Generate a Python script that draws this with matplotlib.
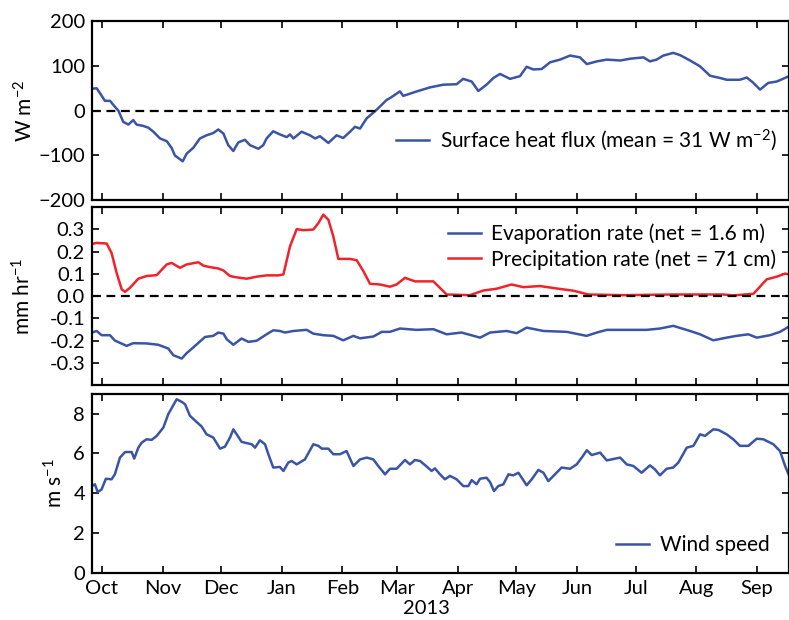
import datetime as dt
import numpy as np
import matplotlib
matplotlib.use("Agg")
import matplotlib.pyplot as plt
import matplotlib.dates as mdates
import matplotlib.transforms as mtransforms

# days since 1 Oct 2012
flux_days = [-5.1, -2.7, -1.0, 1.5, 4.1, 5.8, 8.4, 10.9, 13.5, 16.0, 17.7, 21.1, 23.7, 26.3,
             29.7, 33.1, 35.6, 37.3, 41.3, 43.3, 46.7, 50.1, 53.5, 56.9, 59.5, 62.1, 64.6,
             67.2, 69.7, 73.1, 75.7, 80.0, 82.5, 84.2, 87.6, 91.0, 94.5, 96.2, 97.9, 102.1,
             106.4, 109.0, 111.5, 115.8, 120.0, 123.4, 126.9, 129.4, 132.0, 135.4, 140.5,
             145.6, 147.3, 152.4, 154.1, 161.0, 167.8, 174.6, 181.4, 184.7, 189.1, 192.5,
             196.7, 200.2, 203.6, 208.7, 213.8, 217.2, 220.6, 224.9, 229.2, 234.3, 239.4,
             244.5, 248.0, 253.1, 258.2, 265.1, 270.2, 277.0, 280.3, 283.7, 287.1, 292.2,
             295.7, 300.8, 305.9, 311.0, 316.1, 319.5, 326.3, 329.8, 333.2, 336.6, 340.8,
             345.1, 351.4]
flux_vals = [49, 50, 39, 22, 22, 13, 0, -25, -31, -21, -31, -34, -38, -47,
             -62, -68, -83, -100, -113, -96, -83, -62, -55, -50, -42, -51, -77,
             -90, -71, -65, -77, -85, -77, -62, -46, -53, -59, -53, -62, -47,
             -55, -62, -57, -72, -55, -61, -47, -36, -40, -17, 2,
             24, 28, 43, 33, 43, 52, 58, 59, 71, 65, 44,
             58, 73, 82, 71, 77, 98, 92, 93, 108, 114, 123,
             119, 104, 110, 114, 112, 116, 119, 110, 114, 123, 129,
             124, 112, 99, 78, 73, 69, 69, 74, 62, 47, 62,
             65, 77]

precip_days = [-5.1, -2.7, 2.4, 4.9, 7.5, 10.1, 11.8, 14.3, 18.6, 22.8, 28.0, 33.1, 35.6,
               39.9, 43.3, 49.3, 51.8, 55.2, 59.5, 62.1, 65.5, 68.9, 74.0, 79.1, 84.2,
               90.2, 92.8, 96.2, 99.6, 103.0, 108.1, 110.7, 113.2, 115.8, 118.3, 120.9,
               126.9, 130.3, 133.7, 137.1, 142.2, 147.3, 150.7, 155.0, 160.1, 169.5,
               176.3, 188.2, 195.1, 201.9, 209.5, 215.5, 224.0, 232.6, 241.1, 248.8,
               266.7, 292.2, 317.8, 322.9, 333.2, 340.0, 345.1, 349.4, 351.4]
precip_vals = [0.234, 0.239, 0.236, 0.194, 0.104, 0.030, 0.019, 0.037, 0.078, 0.090, 0.094,
               0.142, 0.149, 0.127, 0.142, 0.152, 0.137, 0.130, 0.124, 0.115, 0.090, 0.084,
               0.078, 0.087, 0.093, 0.093, 0.097, 0.224, 0.301, 0.296, 0.299, 0.328, 0.366,
               0.343, 0.269, 0.167, 0.167, 0.161, 0.112, 0.055, 0.052, 0.042, 0.052, 0.082,
               0.066, 0.066, 0.007, 0.004, 0.025, 0.033, 0.052, 0.040, 0.045, 0.034, 0.024,
               0.007, 0.004, 0.007, 0.007, 0.003, 0.010, 0.075, 0.087, 0.101, 0.097]

evap_days = [-5.1, -2.7, -0.2, 4.1, 6.6, 12.6, 16.0, 22.8, 28.8, 33.9, 36.5, 40.8, 43.3,
             47.6, 52.7, 56.9, 59.5, 62.1, 63.8, 67.2, 71.4, 74.9, 79.1, 84.2, 87.6, 91.0,
             93.6, 97.9, 104.7, 108.1, 113.2, 118.3, 123.4, 128.6, 132.0, 138.8, 143.1,
             147.3, 152.4, 160.9, 169.5, 176.3, 183.9, 193.4, 198.5, 207.0, 212.1, 217.2,
             225.8, 237.7, 247.9, 253.1, 258.2, 266.7, 278.7, 285.4, 292.2, 300.8, 305.9,
             312.7, 319.5, 324.6, 330.6, 334.9, 341.7, 346.8, 351.4]
evap_vals = [-0.164, -0.157, -0.176, -0.176, -0.200, -0.224, -0.212, -0.213, -0.219, -0.236,
             -0.266, -0.281, -0.257, -0.224, -0.184, -0.179, -0.164, -0.169, -0.194, -0.219,
             -0.191, -0.206, -0.201, -0.172, -0.154, -0.157, -0.164, -0.157, -0.152, -0.169,
             -0.176, -0.179, -0.199, -0.179, -0.190, -0.182, -0.161, -0.161, -0.146, -0.152,
             -0.149, -0.172, -0.164, -0.187, -0.164, -0.157, -0.167, -0.142, -0.157, -0.161,
             -0.179, -0.164, -0.152, -0.152, -0.152, -0.146, -0.134, -0.157, -0.172, -0.199,
             -0.187, -0.179, -0.172, -0.187, -0.176, -0.161, -0.137]

wind_days = [-5.1, -3.6, -2.2, -0.2, 2.0, 4.9, 6.6, 9.2, 11.8, 15.2, 16.5, 18.6, 20.3, 22.8,
             25.4, 28.0, 31.4, 33.9, 38.2, 40.8, 42.5, 45.0, 48.4, 51.0, 53.5, 56.9, 60.4,
             62.9, 65.5, 67.2, 68.9, 71.4, 76.6, 78.3, 80.8, 83.4, 85.1, 87.6, 91.0, 92.8,
             95.3, 97.0, 99.6, 103.8, 108.1, 110.7, 112.4, 115.8, 118.3, 121.7, 125.1,
             128.6, 132.0, 135.4, 138.8, 141.3, 144.8, 147.3, 150.7, 155.0, 157.5, 160.1,
             162.7, 166.1, 168.6, 170.3, 172.9, 175.4, 178.0, 181.4, 184.8, 187.4, 189.1,
             191.6, 193.4, 196.7, 198.5, 200.5, 202.7, 205.3, 207.9, 210.4, 213.0, 214.7,
             217.2, 219.8, 223.2, 225.8, 228.3, 231.7, 235.1, 239.4, 242.8, 245.4, 248.0,
             250.5, 254.8, 258.2, 265.0, 268.4, 271.8, 276.0, 280.3, 282.8, 285.4, 288.8,
             292.2, 294.8, 299.1, 302.5, 305.9, 308.4, 312.7, 315.3, 319.5, 322.9, 326.3,
             330.6, 334.9, 338.3, 343.4, 346.8, 349.4, 351.4]
wind_vals = [4.36, 4.45, 4.06, 4.19, 4.73, 4.70, 4.95, 5.79, 6.07, 6.07, 5.74, 6.29, 6.54, 6.71,
             6.68, 6.88, 7.30, 7.97, 8.72, 8.59, 8.47, 7.89, 7.58, 7.35, 6.96, 6.80, 6.24,
             6.34, 6.80, 7.21, 6.96, 6.58, 6.46, 6.29, 6.66, 6.46, 5.96, 5.29, 5.32, 5.12,
             5.54, 5.62, 5.45, 5.70, 6.46, 6.38, 6.24, 6.24, 5.96, 5.96, 6.12,
             5.37, 5.70, 5.79, 5.70, 5.37, 4.95, 5.23, 5.23, 5.67, 5.45, 5.67,
             5.62, 5.34, 5.12, 5.25, 4.95, 4.70, 4.87, 4.70, 4.36, 4.36, 4.66,
             4.45, 4.73, 4.78, 4.56, 4.11, 4.36, 4.45, 4.95, 4.90, 5.03, 4.78,
             4.40, 4.70, 5.17, 5.03, 4.61, 4.95, 5.29, 5.23, 5.45, 5.79, 6.16,
             5.92, 6.04, 5.65, 5.79, 5.45, 5.37, 5.03, 5.40, 5.20, 4.90, 5.23,
             5.29, 5.54, 6.29, 6.38, 6.96, 6.88, 7.21, 7.18, 6.96, 6.71, 6.38,
             6.38, 6.74, 6.71, 6.46, 6.12, 5.37, 4.90]

BLUE = "#3a54a6"
RED = "#f0232b"

plt.rcParams["font.family"] = ["Lato", "DejaVu Sans"]
plt.rcParams["mathtext.default"] = "regular"
plt.rcParams["font.size"] = 14

t0 = mdates.date2num(dt.datetime(2012, 10, 1))


def to_dates(days):
    return t0 + np.asarray(days)


fig = plt.figure(figsize=(7.89, 6.2), dpi=100)
left, width = 0.1166, 0.8834
ax1 = fig.add_axes([left, 0.677, width, 0.289])
ax2 = fig.add_axes([left, 0.379, width, 0.287])
ax3 = fig.add_axes([left, 0.076, width, 0.289])

xmin, xmax = t0 - 5.1, t0 + 351.4
leg_kw = dict(frameon=False, fontsize=15, handlelength=1.6, handletextpad=0.5,
              borderaxespad=0.2)

ax1.plot(to_dates(flux_days), flux_vals, color=BLUE, lw=1.8,
         label=r"Surface heat flux (mean = 31 W m$^{-2}$)")
ax1.axhline(0, color="k", lw=1.6, dashes=(4, 2.5))
ax1.set_ylim(-200, 200)
ax1.set_yticks([-200, -100, 0, 100, 200])
ax1.set_ylabel(r"W m$^{-2}$", fontsize=15)
ax1.yaxis.set_label_coords(-0.079, 0.5)
ax1.legend(loc="center right", bbox_to_anchor=(1.0, 0.335), **leg_kw)

ax2.plot(to_dates(evap_days), evap_vals, color=BLUE, lw=1.8,
         label="Evaporation rate (net = 1.6 m)")
ax2.plot(to_dates(precip_days), precip_vals, color=RED, lw=1.8,
         label="Precipitation rate (net = 71 cm)")
ax2.axhline(0, color="k", lw=1.6, dashes=(4, 2.5))
ax2.set_ylim(-0.4, 0.4)
ax2.set_yticks([-0.3, -0.2, -0.1, 0.0, 0.1, 0.2, 0.3])
ax2.yaxis.set_major_formatter(plt.FormatStrFormatter("%.1f"))
ax2.set_ylabel(r"mm hr$^{-1}$", fontsize=15)
ax2.yaxis.set_label_coords(-0.082, 0.5)
ax2.legend(loc="center right", bbox_to_anchor=(1.0, 0.778), labelspacing=0.25, **leg_kw)

ax3.plot(to_dates(wind_days), wind_vals, color=BLUE, lw=1.8, label="Wind speed")
ax3.set_ylim(0, 9)
ax3.set_yticks([0, 2, 4, 6, 8])
ax3.set_ylabel(r"m s$^{-1}$", fontsize=15)
ax3.yaxis.set_label_coords(-0.036, 0.5)
ax3.legend(loc="center right", bbox_to_anchor=(0.99, 0.156), **leg_kw)

for ax in (ax1, ax2, ax3):
    ax.set_xlim(xmin, xmax)
    ax.xaxis.set_major_locator(mdates.MonthLocator())
    ax.xaxis.set_major_formatter(mdates.DateFormatter("%b"))
    ax.tick_params(direction="in", top=True, right=True, length=5, width=1.2,
                   labelsize=14.5, pad=5)
    for sp in ax.spines.values():
        sp.set_linewidth(1.6)

for ax in (ax1, ax2):
    ax.tick_params(labelbottom=False)

trans = mtransforms.blended_transform_factory(ax3.transData, ax3.transAxes)
ax3.text(t0 + 166, -0.2, "2013", transform=trans, ha="center", va="center", fontsize=14.5)

fig.savefig("out.png", dpi=100)
